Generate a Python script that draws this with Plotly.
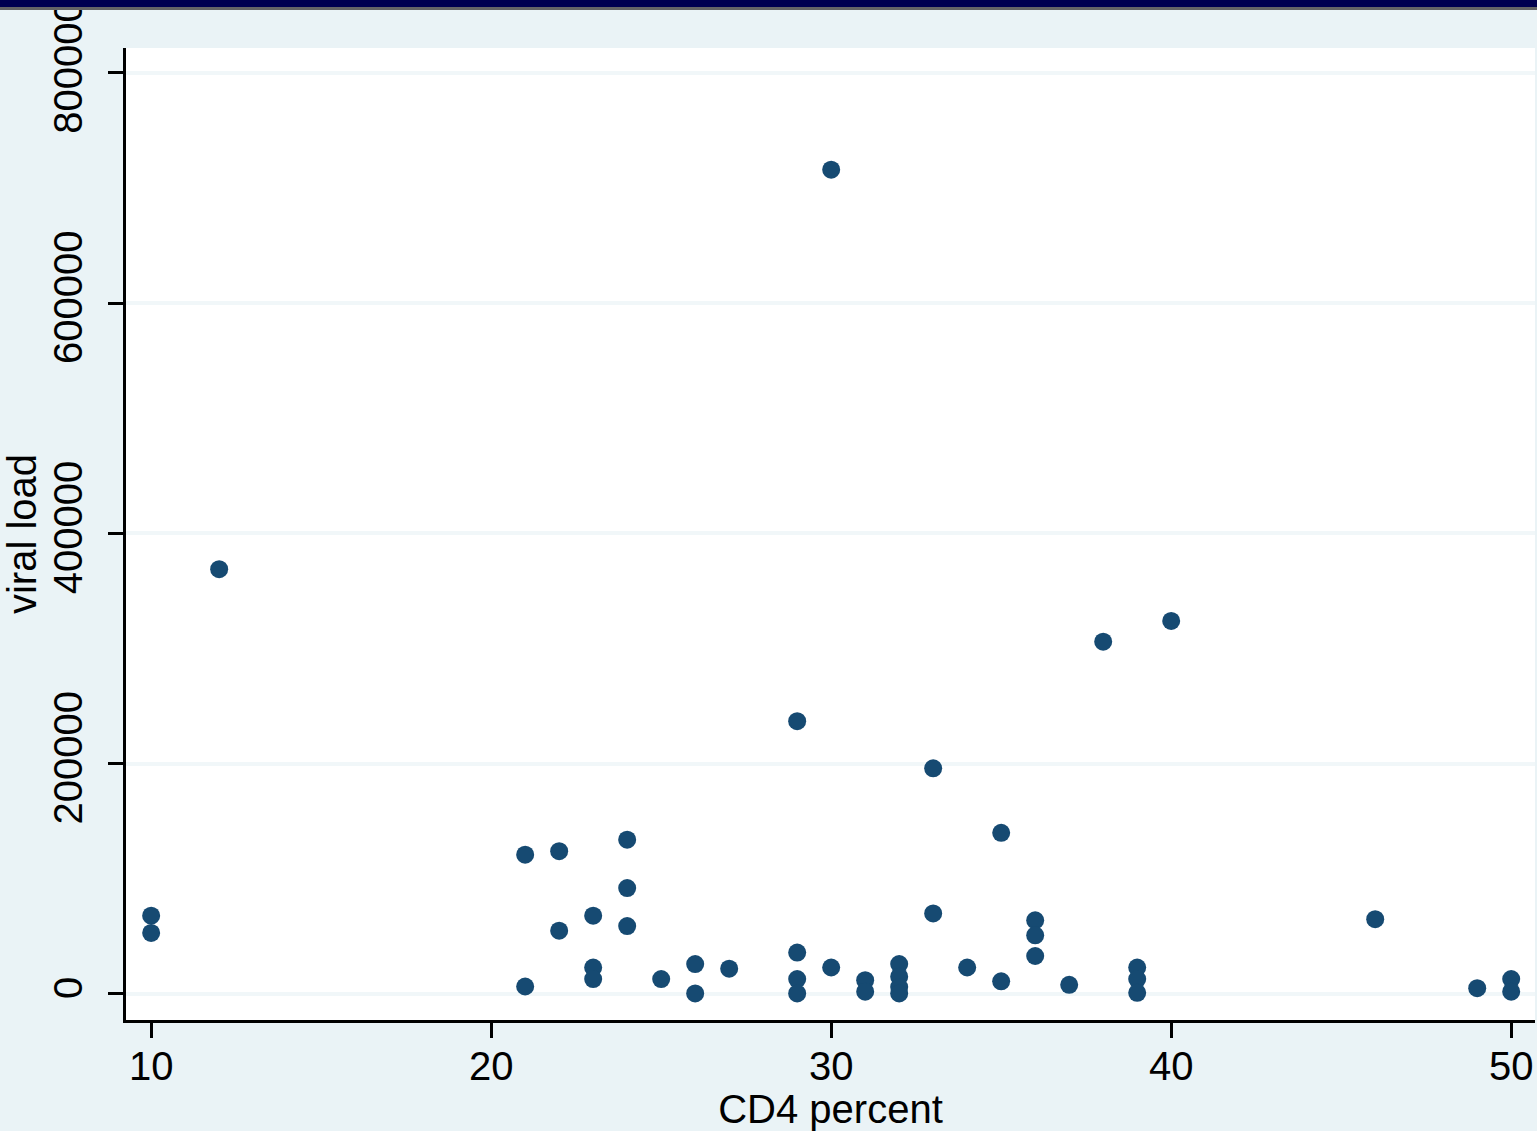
import plotly.graph_objects as go

# CD4 percent (x) and viral load (y)
cd4_percent = [10, 10, 12, 21, 21, 22, 22, 23, 23, 23, 24, 24, 24, 25, 26, 26, 27,
               29, 29, 29, 29, 30, 30, 31, 31, 32, 32, 32, 32, 33, 33, 34, 35, 35,
               36, 36, 36, 37, 38, 39, 39, 39, 40, 46, 49, 50, 50]
viral_load = [68000, 53000, 369000, 121000, 6500, 124000, 55000, 68000, 23000, 13000,
              134000, 92000, 59000, 13000, 26000, 500, 22000,
              237000, 36000, 13000, 500, 716000, 23000, 12000, 2000,
              26000, 15000, 6000, 500, 196000, 70000, 23000, 140000, 11000,
              64000, 51000, 33000, 8000, 306000, 23000, 13000, 1000, 324000,
              65000, 5000, 13000, 2000]

x_ticks = [10, 20, 30, 40, 50]
y_ticks = [0, 200000, 400000, 600000, 800000]
y_tick_text = ["0", "200000", "400000", "600000", "800000"]

x_title = "CD4 percent"
y_title = "viral load"

BG = "#EAF3F6"
FONT = "Liberation Sans, Arial, sans-serif"

fig = go.Figure()
fig.add_trace(go.Scatter(
    x=cd4_percent, y=viral_load, mode="markers",
    marker=dict(size=18, color="#164A72", line=dict(width=0)),
    showlegend=False,
))

fig.update_layout(
    width=1537, height=1131,
    margin=dict(l=126, r=2, t=48, b=111),
    paper_bgcolor=BG, plot_bgcolor="white",
    font=dict(family=FONT, size=40, color="black"),
    xaxis=dict(
        range=[9.26, 50.7], tickvals=x_ticks, ticks="outside", ticklen=15,
        tickwidth=3, tickcolor="black", showline=True, linewidth=3,
        linecolor="black", showgrid=False, zeroline=False,
        tickfont=dict(size=40, family=FONT, color="black"),
        ticklabelstandoff=-6,
        title=dict(text=x_title, font=dict(size=40, family=FONT), standoff=0),
        automargin=False,
    ),
    yaxis=dict(
        range=[-22600, 821700], tickvals=y_ticks, ticktext=y_tick_text,
        tickangle=-90, ticks="outside", ticklen=15, tickwidth=3,
        tickcolor="black", showline=True, linewidth=3, linecolor="black",
        showgrid=True, gridcolor="#F1F7F9", gridwidth=4, zeroline=False,
        tickfont=dict(size=40, family=FONT, color="black"),
        ticklabelstandoff=10,
        title=dict(text=y_title, font=dict(size=40, family=FONT), standoff=0),
        automargin=False,
    ),
    shapes=[
        dict(type="rect", xref="paper", yref="paper", x0=-0.1, x1=1.01,
             y0=1 + 38 / 972, y1=1 + 41 / 972, fillcolor="#666666",
             line=dict(width=0), layer="above"),
        dict(type="rect", xref="paper", yref="paper", x0=-0.1, x1=1.01,
             y0=1 + 41 / 972, y1=1 + 49 / 972, fillcolor="#000050",
             line=dict(width=0), layer="above"),
    ],
)

fig.write_html("out.html", config={"displayModeBar": False},
               post_script="document.body.style.margin='0';document.body.style.overflow='hidden';")
